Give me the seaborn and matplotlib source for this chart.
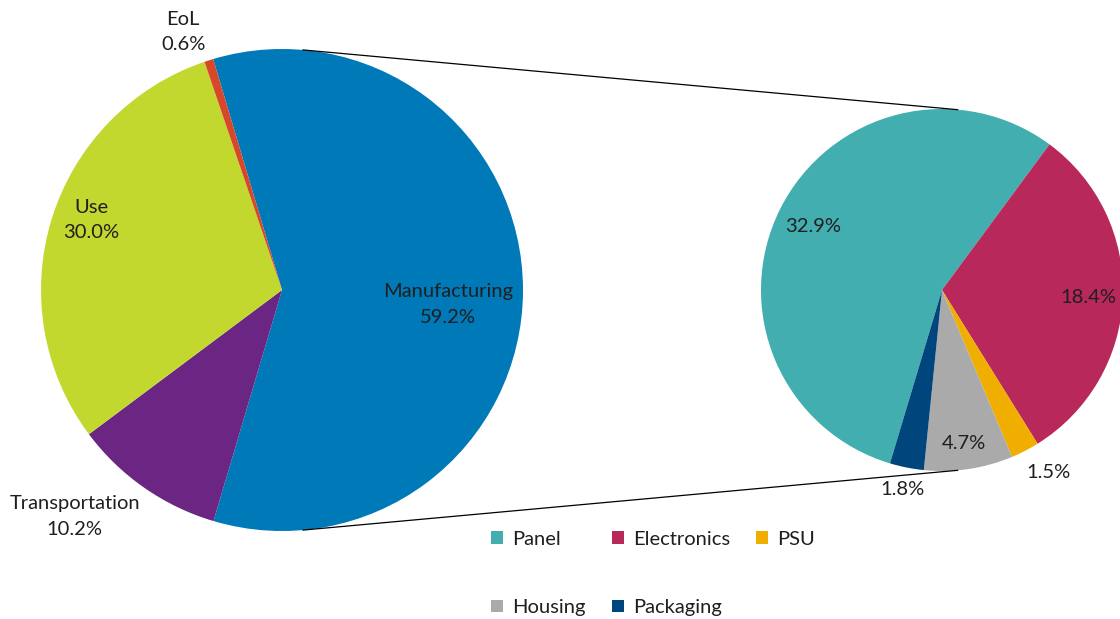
import numpy as np
import matplotlib
matplotlib.use("Agg")
import matplotlib.pyplot as plt
import seaborn as sns

# life-cycle stages (left pie)
stages = ["Manufacturing", "Transportation", "Use", "EoL"]
stage_share = [59.2, 10.2, 30.0, 0.6]
stage_colors = ["#0079b8", "#6b2583", "#c2d82e", "#d7472a"]

# manufacturing breakdown (right pie)
parts = ["Panel", "Electronics", "PSU", "Housing", "Packaging"]
part_share = [32.9, 18.4, 1.5, 4.7, 1.8]
part_colors = ["#43aeb0", "#b8285a", "#f0ae00", "#aaaaaa", "#00457c"]

sns.set_theme(style="white")
plt.rcParams['font.family'] = ['Lato', 'DejaVu Sans']
txt_color = "#1f1f1f"
fsize = 14.5

fig = plt.figure(figsize=(11.2, 6.19), dpi=100)
ax = fig.add_axes([0, 0, 1, 1])

# geometry (pixel-like units, y up)
c1, r1 = (282, 329), 241
c2, r2 = (942, 329), 181

w1, _ = ax.pie(stage_share, colors=stage_colors, startangle=106.6, counterclock=False,
               center=c1, radius=r1, wedgeprops=dict(linewidth=0), frame=True)
w2, _ = ax.pie(part_share, colors=part_colors, startangle=253.3, counterclock=False,
               center=c2, radius=r2, wedgeprops=dict(linewidth=0), frame=True)
ax.set_xlim(0, 1120)
ax.set_ylim(0, 619)
ax.set_aspect("equal")
ax.axis("off")

# label anchors relative to pie centre, in radius units
lab1 = [(0.69, -0.06), (-0.86, -0.94), (-0.79, 0.29), (-0.41, 1.07)]
lab2 = [(-0.71, 0.35), (0.81, -0.04), (0.59, -1.01), (0.12, -0.85), (-0.22, -1.10)]

def put_labels(texts, center, radius, spots):
    for t, (fx, fy) in zip(texts, spots):
        ax.text(center[0] + fx * radius, center[1] + fy * radius, t, ha="center",
                va="center", fontsize=fsize, color=txt_color, linespacing=1.6)

put_labels([f"{n}\n{v:.1f}%" for n, v in zip(stages, stage_share)], c1, r1, lab1)
put_labels([f"{v:.1f}%" for v in part_share], c2, r2, lab2)

# connector lines between the two pies
a = np.deg2rad(5)
for s in (1, -1):
    p1 = (c1[0] + r1 * np.sin(a), c1[1] + s * r1 * np.cos(a))
    p2 = (c2[0] + r2 * np.sin(a), c2[1] + s * r2 * np.cos(a))
    ax.plot([p1[0], p2[0]], [p1[1], p2[1]], color="black", lw=0.9)

# legend, filled row by row
order = [0, 3, 1, 4, 2]
leg = ax.legend([w2[i] for i in order], [parts[i] for i in order], ncol=3,
                loc="upper left", bbox_to_anchor=(0.422, 0.172), frameon=False,
                fontsize=fsize, handlelength=0.6, handleheight=0.6, handletextpad=0.45,
                columnspacing=1.3, labelspacing=2.55)
for t in leg.get_texts():
    t.set_color(txt_color)

fig.savefig("out.png", dpi=100)
